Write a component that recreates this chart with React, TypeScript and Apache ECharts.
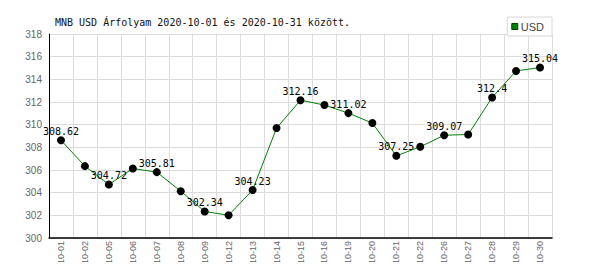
import React, { useEffect, useRef } from "react";
import * as echarts from "echarts";

const categories = [
  "10-01", "10-02", "10-05", "10-06", "10-07", "10-08", "10-09", "10-12", "10-13", "10-14",
  "10-15", "10-16", "10-19", "10-20", "10-21", "10-22", "10-26", "10-27", "10-28", "10-29", "10-30",
];
const usdValues = [
  308.62, 306.34, 304.72, 306.13, 305.81, 304.13, 302.34, 302.01, 304.23, 309.7,
  312.16, 311.73, 311.02, 310.14, 307.25, 308.05, 309.07, 309.13, 312.4, 314.74, 315.04,
];
const labelledIndices = [0, 2, 4, 6, 8, 10, 12, 14, 16, 18, 20];
const titleText = "MNB USD Árfolyam 2020-10-01 és 2020-10-31 között.";
const seriesName = "USD";

export default function App() {
  const ref = useRef<HTMLDivElement>(null);
  useEffect(() => {
    if (!ref.current) return;
    const chart = echarts.init(ref.current, null, { renderer: "svg" });
    const mono = "DejaVu Sans Mono";
    chart.setOption({
      animation: false,
      backgroundColor: "#ffffff",
      title: {
        text: titleText,
        left: 50,
        top: 12,
        textStyle: { fontFamily: mono, fontSize: 10, fontWeight: "normal", color: "#111" },
      },
      legend: {
        data: [{ name: seriesName, itemStyle: { color: "#008000", borderColor: "#004000", borderWidth: 1 } }],
        right: 48,
        top: 17,
        orient: "horizontal",
        icon: "rect",
        itemWidth: 6,
        itemHeight: 6,
        itemGap: 2,
        padding: [4, 8, 4, 4],
        borderColor: "#d8d8d8",
        borderWidth: 1,
        backgroundColor: "#ffffff",
        z: 10,
        textStyle: { fontFamily: "Liberation Sans", fontSize: 11, color: "#444", padding: [0, 0, 0, -2] },
      },
      grid: { left: 49, right: 48, top: 34, bottom: 32, containLabel: false },
      xAxis: {
        type: "category",
        data: categories,
        boundaryGap: true,
        axisLine: { show: true, lineStyle: { color: "#000", width: 1.5 } },
        axisTick: { show: false },
        axisLabel: {
          rotate: 90,
          margin: 3,
          fontFamily: "Liberation Sans",
          fontSize: 9,
          color: "#666",
          interval: 0,
        },
        splitLine: { show: true, interval: 0, lineStyle: { color: "#dcdcdc", width: 1 } },
      },
      yAxis: {
        type: "value",
        min: 300,
        max: 318,
        interval: 2,
        axisLine: { show: true, lineStyle: { color: "#000", width: 1 } },
        axisTick: { show: false },
        axisLabel: { margin: 7, fontFamily: "Liberation Sans", fontSize: 10, color: "#666" },
        splitLine: { show: true, lineStyle: { color: "#dcdcdc", width: 1 } },
      },
      series: [
        {
          name: seriesName,
          type: "line",
          data: usdValues.map((v, i) => ({
            value: v,
            label: { show: labelledIndices.includes(i) },
          })),
          symbol: "circle",
          symbolSize: 8,
          itemStyle: { color: "#000" },
          lineStyle: { color: "#008000", width: 1 },
          label: {
            show: false,
            position: "top",
            distance: 0,
            fontFamily: mono,
            fontSize: 10,
            color: "#000",
            formatter: (p: any) => String(p.value),
          },
          labelLayout: { hideOverlap: false },
          z: 3,
        },
      ],
    });
    return () => chart.dispose();
  }, []);
  return <div ref={ref} style={{ width: 600, height: 270, margin: -8 }} />;
}
